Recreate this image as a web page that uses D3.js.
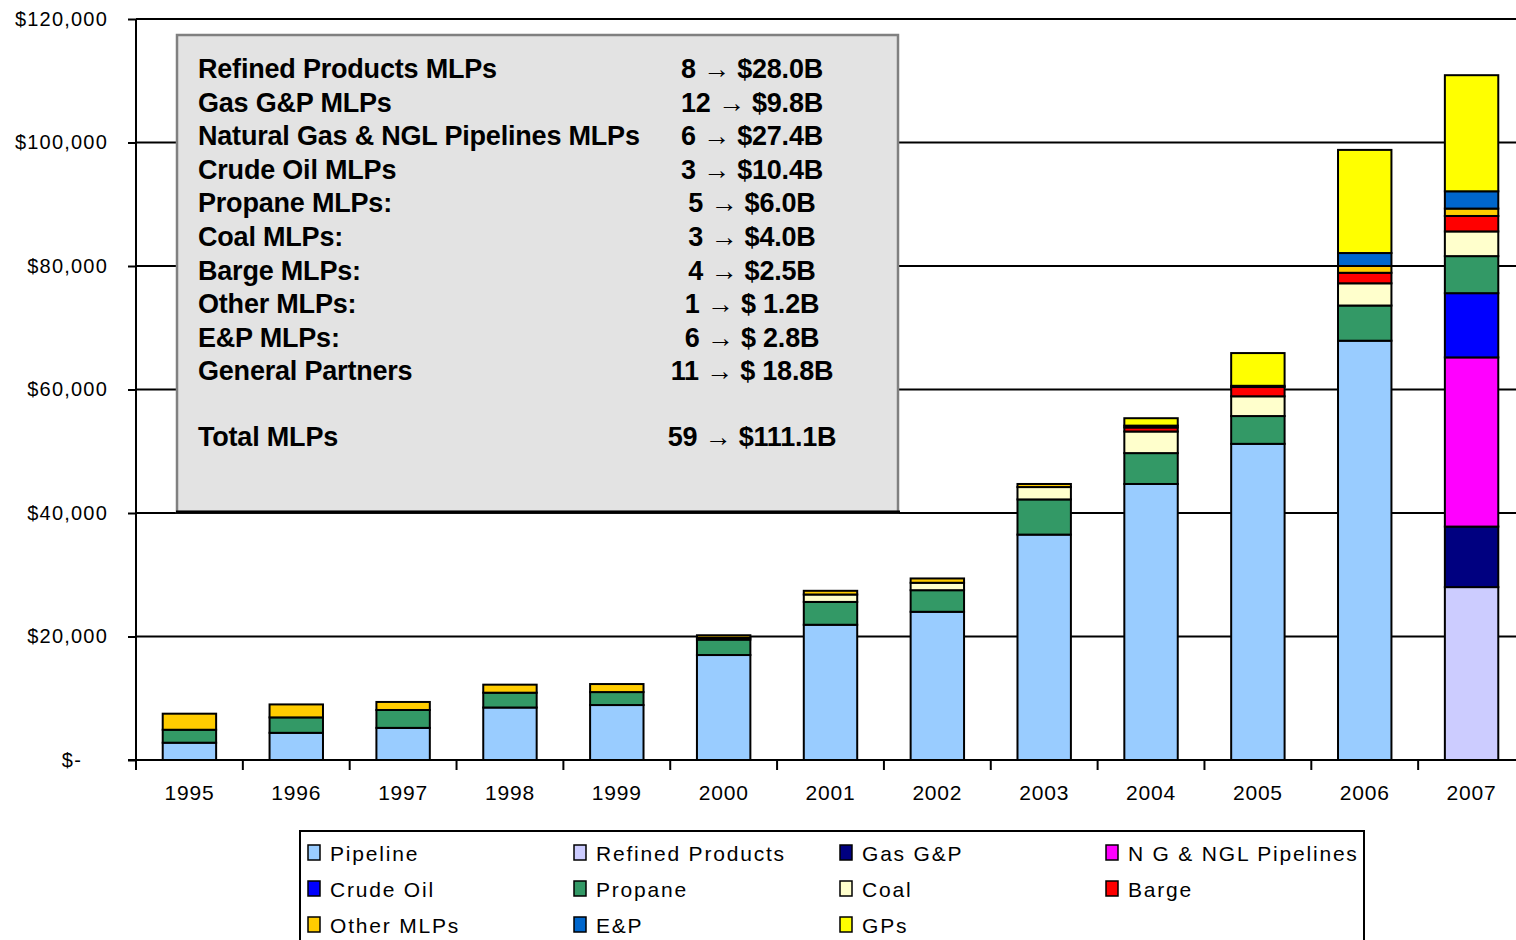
<!DOCTYPE html>
<html>
<head>
<meta charset="utf-8">
<script src="https://cdn.jsdelivr.net/npm/d3@7"></script>
<style>
  body { margin: 0; background: #fff; }
  svg { display: block; font-family: "Liberation Sans", Arial, sans-serif; }
</style>
</head>
<body>
<div class="mlpChart"></div>
<script>
// values in $ millions
const years = ["1995", "1996", "1997", "1998", "1999", "2000", "2001", "2002", "2003", "2004", "2005", "2006", "2007"]
const pipeline = [2800, 4400, 5200, 8500, 8900, 17000, 21900, 24000, 36500, 44700, 51200, 67900, 0]
const refinedProducts = [0, 0, 0, 0, 0, 0, 0, 0, 0, 0, 0, 0, 28000]
const gasGP = [0, 0, 0, 0, 0, 0, 0, 0, 0, 0, 0, 0, 9800]
const ngPipelines = [0, 0, 0, 0, 0, 0, 0, 0, 0, 0, 0, 0, 27400]
const crudeOil = [0, 0, 0, 0, 0, 0, 0, 0, 0, 0, 0, 0, 10400]
const propane = [2100, 2500, 2900, 2400, 2100, 2500, 3700, 3500, 5700, 5000, 4500, 5700, 6000]
const coal = [0, 0, 0, 0, 0, 300, 1200, 1200, 2000, 3500, 3200, 3600, 4000]
const barge = [0, 0, 0, 0, 0, 0, 0, 0, 0, 650, 1500, 1700, 2500]
const otherMLPs = [2600, 2100, 1300, 1300, 1300, 400, 600, 700, 500, 300, 200, 1100, 1200]
const ep = [0, 0, 0, 0, 0, 0, 0, 0, 0, 0, 0, 2100, 2800]
const gps = [0, 0, 0, 0, 0, 0, 0, 0, 0, 1200, 5300, 16700, 18800]

const seriesNames = ["Pipeline", "Refined Products", "Gas G&P", "N G & NGL Pipelines", "Crude Oil", "Propane", "Coal", "Barge", "Other MLPs", "E&P", "GPs"]
const seriesValues = [pipeline, refinedProducts, gasGP, ngPipelines, crudeOil, propane, coal, barge, otherMLPs, ep, gps]
const seriesColors = ["#99CCFF", "#CCCCFF", "#000080", "#FF00FF", "#0000FF", "#339966", "#FFFFCC", "#FF0000", "#FFCC00", "#0066CC", "#FFFF00"]

const yTicks = [0, 20000, 40000, 60000, 80000, 100000, 120000]

const boxLabels = ["Refined Products MLPs", "Gas G&P MLPs", "Natural Gas & NGL Pipelines MLPs", "Crude Oil MLPs", "Propane MLPs:", "Coal MLPs:", "Barge MLPs:", "Other MLPs:", "E&P MLPs:", "General Partners", "", "Total MLPs"]
const boxValues = ["8 \u2192 $28.0B", "12 \u2192 $9.8B", "6 \u2192 $27.4B", "3 \u2192 $10.4B", "5 \u2192 $6.0B", "3 \u2192 $4.0B", "4 \u2192 $2.5B", "1 \u2192 $ 1.2B", "6 \u2192 $ 2.8B", "11 \u2192 $ 18.8B", "", "59 \u2192 $111.1B"]

const width = 1516
const height = 940
const margin = { top: 19, right: -9, bottom: 180, left: 136 }
const plotBottom = height - margin.bottom

const svg = d3.select(".mlpChart").append("svg").attr("width", width).attr("height", height)
svg.append("rect").attr("width", width).attr("height", height).attr("fill", "#fff")

const data = years.map((yr, i) => {
  const row = { year: yr }
  seriesNames.forEach((s, k) => (row[s] = seriesValues[k][i]))
  return row
})

const xScale = d3.scaleBand().domain(years).range([margin.left, width - margin.right]).paddingInner(0.5).paddingOuter(0.25)
const yScale = d3.scaleLinear().domain([0, 120000]).range([plotBottom, margin.top])

// gridlines
svg
  .selectAll(".grid")
  .data(yTicks.slice(1))
  .enter()
  .append("line")
  .attr("x1", margin.left)
  .attr("x2", width)
  .attr("y1", d => yScale(d))
  .attr("y2", d => yScale(d))
  .attr("stroke", "#000")
  .attr("stroke-width", 2)

// stacked bars
const stack = d3.stack().keys(seriesNames)
const layer = svg
  .selectAll(".layer")
  .data(stack(data))
  .enter()
  .append("g")
  .attr("class", "layer")
  .attr("fill", (d, i) => seriesColors[i])

layer
  .selectAll("rect")
  .data(d => d.filter(p => p[1] - p[0] > 0))
  .enter()
  .append("rect")
  .attr("x", d => xScale(d.data.year))
  .attr("y", d => yScale(d[1]))
  .attr("width", xScale.bandwidth())
  .attr("height", d => yScale(d[0]) - yScale(d[1]))
  .attr("stroke", "#000")
  .attr("stroke-width", 2)

// y axis
const yAxis = d3
  .axisLeft(yScale)
  .tickValues(yTicks)
  .tickSize(8)
  .tickPadding(20)
  .tickFormat(d => (d === 0 ? "$-" : "$" + d3.format(",")(d)))
const yAxisGroup = svg.append("g").attr("transform", `translate(${margin.left},0)`).call(yAxis)
yAxisGroup.select(".domain").attr("stroke-width", 2).attr("d", `M0,${margin.top}V${plotBottom + 2}`)
yAxisGroup.selectAll(".tick line").attr("stroke-width", 2)
yAxisGroup
  .selectAll(".tick text")
  .attr("font-size", 20)
  .attr("letter-spacing", 1.2)
  .attr("font-family", "Liberation Sans, Arial, sans-serif")
  .attr("fill", "#000")
yAxisGroup.selectAll(".tick text").filter(d => d === 0).attr("x", -54)

// x axis
const step = xScale.step()
svg
  .append("line")
  .attr("x1", margin.left - 8)
  .attr("x2", width)
  .attr("y1", plotBottom)
  .attr("y2", plotBottom)
  .attr("stroke", "#000")
  .attr("stroke-width", 2)
svg
  .selectAll(".xtick")
  .data(d3.range(years.length + 1))
  .enter()
  .append("line")
  .attr("x1", i => margin.left + i * step)
  .attr("x2", i => margin.left + i * step)
  .attr("y1", plotBottom)
  .attr("y2", plotBottom + 10)
  .attr("stroke", "#000")
  .attr("stroke-width", 2)
svg
  .selectAll(".xlabel")
  .data(years)
  .enter()
  .append("text")
  .attr("x", d => xScale(d) + xScale.bandwidth() / 2)
  .attr("y", plotBottom + 40)
  .attr("text-anchor", "middle")
  .attr("font-size", 21)
  .attr("letter-spacing", 0.8)
  .text(d => d)

// summary box
const box = svg.append("g")
box.append("rect").attr("x", 177).attr("y", 35).attr("width", 721).attr("height", 477).attr("fill", "#E3E3E3").attr("stroke", "#808080").attr("stroke-width", 2.5)
box.append("line").attr("x1", 176).attr("x2", 900).attr("y1", 512).attr("y2", 512).attr("stroke", "#000").attr("stroke-width", 3)

const rowY = i => 78 + i * 33.6
box
  .selectAll(".blabel")
  .data(boxLabels)
  .enter()
  .append("text")
  .attr("x", 198)
  .attr("y", (d, i) => rowY(i) - (i === 11 ? 2 : 0))
  .attr("font-size", 27)
  .attr("font-weight", "bold")
  .attr("letter-spacing", -0.2)
  .text(d => d)
box
  .selectAll(".bvalue")
  .data(boxValues)
  .enter()
  .append("text")
  .attr("x", 752)
  .attr("y", (d, i) => rowY(i) - (i === 11 ? 2 : 0))
  .attr("text-anchor", "middle")
  .attr("font-size", 27)
  .attr("font-weight", "bold")
  .attr("letter-spacing", -0.2)
  .text(d => d)

// legend
const legend = svg.append("g")
legend.append("rect").attr("x", 300).attr("y", 831).attr("width", 1064).attr("height", 130).attr("fill", "#fff").attr("stroke", "#000").attr("stroke-width", 2)
const item = legend
  .selectAll(".item")
  .data(seriesNames)
  .enter()
  .append("g")
  .attr("transform", (d, i) => `translate(${308 + (i % 4) * 266}, ${853 + Math.floor(i / 4) * 36})`)
item
  .append("rect")
  .attr("x", 0)
  .attr("y", -8)
  .attr("width", 12)
  .attr("height", 15)
  .attr("fill", (d, i) => seriesColors[i])
  .attr("stroke", "#000")
  .attr("stroke-width", 1.5)
item
  .append("text")
  .attr("x", 22)
  .attr("y", 8)
  .attr("font-size", 21)
  .attr("letter-spacing", 1.8)
  .text(d => d)
</script>
</body>
</html>
